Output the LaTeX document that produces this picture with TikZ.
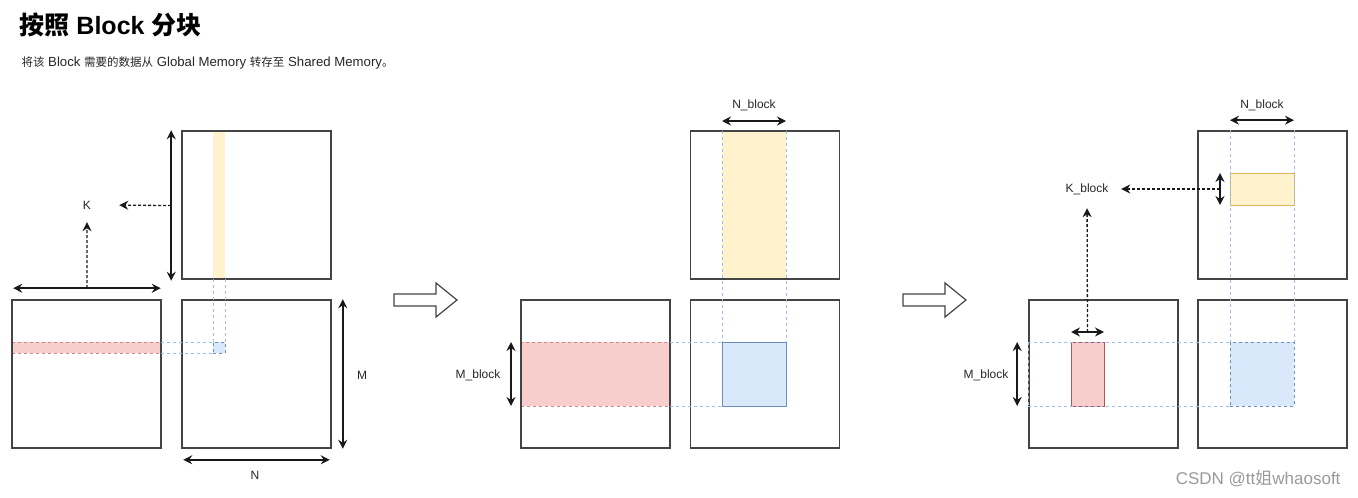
\documentclass[tikz,border=0pt]{standalone}
\usepackage{fontspec}
\setmainfont{Liberation Sans}
\newfontfamily\cjkfont{Noto Sans CJK SC}
\usetikzlibrary{arrows.meta,positioning,calc}
\definecolor{tileYellow}{HTML}{FFF2CC}
\definecolor{tileYellowLine}{HTML}{D6B656}
\definecolor{tileRed}{HTML}{F8CECC}
\definecolor{tileRedLine}{HTML}{B85450}
\definecolor{tileBlue}{HTML}{DAE8FC}
\definecolor{tileBlueLine}{HTML}{6C8EBF}
\definecolor{guideBlue}{HTML}{9DBDEB}
\definecolor{boxGray}{HTML}{444444}
\newcommand\zh[1]{{\cjkfont #1}}

\begin{document}
\begin{tikzpicture}[
  x=1pt,y=-1pt,
  matbox/.style={
    draw=boxGray,
    line width=1.6pt,
    minimum width=149pt,
    minimum height=148pt,
    inner sep=0pt
  },
  tile/.style={inner sep=0pt,outer sep=0pt},
  dimarrow/.style={{Stealth[length=9pt,width=9pt]}-{Stealth[length=9pt,width=9pt]},line width=1.6pt,black!90},
  ptrarrow/.style={-{Stealth[length=9pt,width=9pt]},dash pattern=on 3pt off 2pt,line width=1.3pt,black!90},
  guide/.style={draw=guideBlue,dashed,line width=0.7pt},
  lbl/.style={font=\fontsize{12}{14}\selectfont,text=black!85,inner sep=0pt},
  hollow/.style={draw=boxGray,line width=1.2pt,fill=white}
]
\useasboundingbox (0,0) rectangle (1358,498);

% title
\node[anchor=west,font=\fontsize{25}{28}\selectfont\bfseries] (title) at (16,25) {\zh{按照} Block \zh{分块}};
\node[anchor=west,font=\fontsize{13.2}{14}\selectfont,text=black!85] (subtitle) at (18,63)
  {\zh{\fontsize{11.5}{14}\selectfont 将该} Block \zh{\fontsize{11.5}{14}\selectfont 需要的数据从} Global Memory \zh{\fontsize{11.5}{14}\selectfont 转存至} Shared Memory\zh{\fontsize{11.5}{14}\selectfont 。}};

% ---- step 1: whole matrices
\node[tile,fill=tileYellow,minimum width=12pt,minimum height=148pt] (y1) at (219,205) {};
\node[tile,fill=tileRed,draw=tileRedLine!70,dashed,line width=0.5pt,minimum width=149pt,minimum height=11pt] (r1) at (86.5,347.5) {};
\node[tile,fill=tileBlue,draw=tileBlueLine,dashed,line width=0.5pt,minimum width=12pt,minimum height=11pt] (b1) at (219,347.5) {};
\node[matbox] (B1) at (256.5,205) {};
\node[matbox] (A1) at (86.5,374) {};
\node[matbox] (C1) at (256.5,374) {};
\draw[guide] (y1.south west) -- (b1.north west);
\draw[guide] (y1.south east) -- (b1.north east);
\draw[guide] (r1.north east) -- (b1.north west);
\draw[guide] (r1.south east) -- (b1.south west);

\node[lbl,minimum width=64pt,minimum height=34pt] (k1) at (87,205) {K};
\node[lbl] (m1) at (362,375) {M};
\node[lbl] (n1) at (255,475) {N};
\coordinate (kb1top) at ($(B1.north west)+(-10,0)$);
\coordinate (kb1bot) at ($(B1.south west)+(-10,1)$);
\coordinate (kb1mid) at ($(kb1top)!0.5!(kb1bot)$);
\coordinate (ka1l) at ($(A1.north west)+(2,-11)$);
\coordinate (ka1r) at ($(A1.north east)+(-1,-11)$);
\coordinate (ka1mid) at ($(ka1l)!0.5!(ka1r)$);
\draw[dimarrow] (kb1top) -- (kb1bot);
\draw[dimarrow] (ka1l) -- (ka1r);
\draw[ptrarrow] (kb1mid) -- (k1);
\draw[ptrarrow] (ka1mid) -- (k1);
\draw[dimarrow] ($(C1.north east)+(11,0)$) -- ($(C1.south east)+(11,0)$);
\draw[dimarrow] ($(C1.south west)+(2,11)$) -- ($(C1.south east)+(-2,11)$);

% arrow 1
\draw[hollow] (394,294) -- (436,294) -- (436,283) -- (457,300) -- (436,317) -- (436,306) -- (394,306) -- cycle;

% ---- step 2: block rows and columns
\node[tile,fill=tileYellow,minimum width=64pt,minimum height=148pt] (y2) at (754,205) {};
\node[tile,fill=tileRed,draw=tileRedLine!70,dashed,line width=0.5pt,minimum width=149pt,minimum height=64pt] (r2) at (595.5,374) {};
\node[tile,fill=tileBlue,draw=tileBlueLine,line width=0.5pt,minimum width=64pt,minimum height=64pt] (b2) at (754,374) {};
\node[matbox] (B2) at (765,205) {};
\node[matbox] (A2) at (595.5,374) {};
\node[matbox] (C2) at (765,374) {};
\draw[guide] (y2.north west) -- (b2.north west);
\draw[guide] (y2.north east) -- (b2.north east);
\draw[guide] (r2.north east) -- (b2.north west);
\draw[guide] (r2.south east) -- (b2.south west);

\node[lbl] (nb2) at (754,105) {N\_block};
\node[lbl] (mb2) at (478,375) {M\_block};
\draw[dimarrow] ($(y2.north west)+(0,-10)$) -- ($(y2.north east)+(0,-10)$);
\draw[dimarrow] ($(r2.north west)+(-10,0)$) -- ($(r2.south west)+(-10,0)$);

% arrow 2
\draw[hollow] (903,294) -- (945,294) -- (945,283) -- (966,300) -- (945,317) -- (945,306) -- (903,306) -- cycle;

% ---- step 3: K_block tiles
\node[tile,fill=tileYellow,draw=tileYellowLine,line width=0.8pt,minimum width=64pt,minimum height=32pt] (y3) at (1262,189) {};
\node[tile,fill=tileRed,draw=tileRedLine,line width=0.8pt,minimum width=33pt,minimum height=64pt] (r3) at (1087.5,374) {};
\node[tile,fill=tileBlue,draw=tileBlueLine,dashed,line width=0.5pt,minimum width=64pt,minimum height=64pt] (b3) at (1262,374) {};
\node[matbox] (B3) at (1272.5,205) {};
\node[matbox] (A3) at (1103.5,374) {};
\node[matbox] (C3) at (1272.5,374) {};
\draw[guide] (b3.north west |- B3.north) -- (b3.north west);
\draw[guide] (b3.north east |- B3.north) -- (b3.north east);
\draw[guide] (A3.west |- b3.north) -- (b3.north west);
\draw[guide] (A3.west |- b3.south) -- (b3.south west);
\draw[guide] (A3.west |- b3.north) -- (A3.west |- b3.south);

\node[lbl] (nb3) at (1262,105) {N\_block};
\node[lbl,minimum width=68pt,minimum height=38pt] (kb3) at (1087,189) {K\_block};
\node[lbl] (mb3) at (986,375) {M\_block};
\coordinate (kb3top) at ($(y3.north west)+(-10,0)$);
\coordinate (kb3bot) at ($(y3.south west)+(-10,0)$);
\coordinate (kb3mid) at ($(kb3top)!0.5!(kb3bot)$);
\coordinate (ka3l) at ($(r3.north west)+(0,-10)$);
\coordinate (ka3r) at ($(r3.north east)+(0,-10)$);
\coordinate (ka3mid) at ($(ka3l)!0.5!(ka3r)$);
\draw[dimarrow] ($(b3.north west |- B3.north)+(0,-10)$) -- ($(b3.north east |- B3.north)+(0,-10)$);
\draw[dimarrow] (kb3top) -- (kb3bot);
\draw[dimarrow] (ka3l) -- (ka3r);
\draw[ptrarrow] (kb3mid) -- (kb3);
\draw[ptrarrow] (ka3mid) -- (kb3);
\draw[dimarrow] ($(A3.west |- b3.north)+(-11,0)$) -- ($(A3.west |- b3.south)+(-11,0)$);

% watermark
\node[anchor=east,font=\fontsize{17}{19}\selectfont,text=black!40] (mark) at (1344,479) {CSDN @tt\zh{姐}whaosoft};
\end{tikzpicture}
\end{document}
